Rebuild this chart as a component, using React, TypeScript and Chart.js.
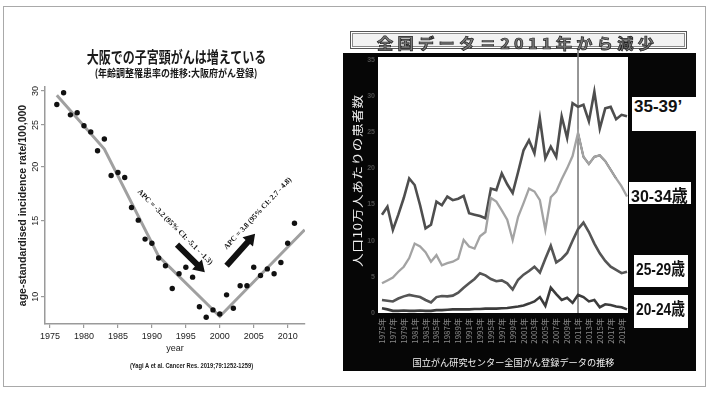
import React, { useEffect, useRef } from 'react';
import { Chart, registerables } from 'chart.js';

Chart.register(...registerables);

// ---------------- Left panel: Osaka Cancer Registry ----------------
const OSAKA_YEARS = [1976, 1977, 1978, 1979, 1980, 1981, 1982, 1983, 1984, 1985, 1986, 1987, 1988, 1989, 1990, 1991, 1992, 1993, 1994, 1995, 1996, 1997, 1998, 1999, 2000, 2001, 2002, 2003, 2004, 2005, 2006, 2007, 2008, 2009, 2010, 2011];
const OSAKA_RATES = [27.9, 29.7, 26.4, 26.7, 24.9, 24.1, 21.8, 23.2, 19.1, 19.4, 18.9, 16.1, 15.05, 13.6, 13.3, 12.3, 11.8, 10.45, 11.3, 11.7, 11.1, 9.48, 8.96, 9.32, 9.12, 10.1, 9.4, 10.6, 10.6, 11.7, 11.2, 11.6, 11.3, 12.0, 13.3, 14.8];
const FIT_YEARS = [1976, 1983, 1991, 2000, 2012.5];
const FIT_RATES = [29.3, 22.0, 12.4, 9.0, 14.3];
const OSAKA_X_TICKS = [1975, 1980, 1985, 1990, 1995, 2000, 2005, 2010];
const OSAKA_Y_TICKS = [10, 15, 20, 25, 30];
const OSAKA_X_RANGE = [1974.26, 2012.55];
const OSAKA_Y_RANGE = [8.645, 30.63];

const LEFT_TITLE = '大阪での子宮頸がんは増えている';
const LEFT_SUBTITLE = '(年齢調整罹患率の推移:大阪府がん登録)';
const LEFT_CITATION = '(Yagi A et al. Cancer Res. 2019;79:1252-1259)';
const LEFT_X_TITLE = 'year';
const LEFT_Y_TITLE = 'age-standardised incidence rate/100,000';

const APC_NOTES = [
  { text: 'APC = -3.2 (95% CI: -5.1 - -1.3)', year: 1993.4, rate: 14.5, angle: 45 },
  { text: 'APC = 3.8 (95% CI: 2.7 - 4.8)', year: 2005.6, rate: 15.6, angle: -47 },
];
const APC_ARROWS = [
  { from: [1993.7, 13.2], to: [1997.8, 11.4] },
  { from: [2001.0, 11.8], to: [2005.2, 14.0] },
];

// ---------------- Right panel: national data ----------------
const NATIONAL_YEARS = [1975, 1976, 1977, 1978, 1979, 1980, 1981, 1982, 1983, 1984, 1985, 1986, 1987, 1988, 1989, 1990, 1991, 1992, 1993, 1994, 1995, 1996, 1997, 1998, 1999, 2000, 2001, 2002, 2003, 2004, 2005, 2006, 2007, 2008, 2009, 2010, 2011, 2012, 2013, 2014, 2015, 2016, 2017, 2018, 2019, 2020];
const RATE_35_39 = [13.6, 14.7, 11.5, 13.6, 15.9, 18.6, 17.7, 14.9, 11.7, 12.2, 15.4, 14.9, 16.1, 15.6, 15.8, 16.2, 13.8, 13.6, 13.4, 13.1, 17.2, 17.0, 19.3, 17.8, 16.6, 19.5, 22.5, 23.9, 22.1, 26.9, 21.4, 23.0, 21.6, 27.2, 24.2, 29.0, 28.5, 28.8, 26.5, 30.6, 25.5, 28.3, 28.5, 26.8, 27.4, 27.2];
const RATE_30_34 = [4.1, 4.5, 4.9, 5.7, 6.4, 7.6, 9.6, 9.2, 8.4, 7.1, 8.0, 6.6, 6.9, 7.1, 7.5, 10.1, 9.2, 8.9, 10.6, 11.2, 15.9, 15.4, 14.2, 12.9, 10.1, 13.3, 15.2, 17.2, 16.8, 15.6, 11.5, 16.0, 16.8, 18.5, 20.0, 21.7, 24.9, 21.6, 20.6, 21.6, 21.8, 21.0, 19.8, 18.6, 17.5, 16.1];
const RATE_25_29 = [1.8, 1.7, 1.6, 2.0, 2.3, 2.5, 2.35, 2.2, 1.8, 1.45, 2.2, 2.35, 2.3, 2.4, 2.8, 3.5, 4.1, 4.7, 5.5, 5.2, 4.7, 4.4, 4.5, 4.1, 3.25, 4.6, 5.3, 5.8, 6.4, 5.6, 7.5, 9.3, 7.0, 7.5, 8.3, 10.0, 11.6, 12.5, 11.2, 9.6, 8.25, 7.2, 6.4, 5.95, 5.5, 5.7];
const RATE_20_24 = [0.65, 0.5, 0.3, 0.3, 0.35, 0.3, 0.3, 0.35, 0.3, 0.3, 0.4, 0.4, 0.45, 0.5, 0.5, 0.5, 0.5, 0.55, 0.55, 0.6, 0.6, 0.6, 0.65, 0.7, 0.8, 0.9, 1.05, 1.3, 1.6, 2.2, 1.0, 3.5, 2.6, 1.8, 2.1, 1.4, 2.5, 2.2, 1.6, 1.8, 0.8, 1.2, 1.1, 0.9, 0.8, 0.5];
const NATIONAL_X_TICKS = [1975, 1977, 1979, 1981, 1983, 1985, 1987, 1989, 1991, 1993, 1995, 1997, 1999, 2001, 2003, 2005, 2007, 2009, 2011, 2013, 2015, 2017, 2019];
const NATIONAL_Y_TICKS = [0, 5, 10, 15, 20, 25, 30, 35];
const NATIONAL_X_RANGE = [1974.27, 2020.18];
const NATIONAL_Y_RANGE = [0, 35.4];
const MARK_YEAR = 2011;
const HIGHLIGHT_RANGE = [2011, 2018];

const RIGHT_TITLE = '全国データ＝2011年から減少';
const RIGHT_Y_TITLE = '人口10万人あたりの患者数';
const RIGHT_X_TITLE = '国立がん研究センター全国がん登録データの推移';
const SERIES_LABELS = ['35-39’', '30-34歳', '25-29歳', '20-24歳'];

// ---------------- fonts ----------------
const SANS = '"Liberation Sans", Arial, sans-serif';
const SERIF = '"Liberation Serif", "Times New Roman", serif';
const CJK = '"Noto Sans CJK JP", "Noto Sans", sans-serif';
const LABEL_FONT = '"Liberation Sans", "Noto Sans CJK JP", sans-serif';

function drawArrow(ctx: CanvasRenderingContext2D, x1: number, y1: number, x2: number, y2: number) {
  const shaft = 6;
  const headLen = 11;
  const headW = 14;
  const ang = Math.atan2(y2 - y1, x2 - x1);
  const len = Math.hypot(x2 - x1, y2 - y1);
  ctx.save();
  ctx.translate(x1, y1);
  ctx.rotate(ang);
  ctx.beginPath();
  ctx.moveTo(0, -shaft / 2);
  ctx.lineTo(len - headLen, -shaft / 2);
  ctx.lineTo(len - headLen, -headW / 2);
  ctx.lineTo(len, 0);
  ctx.lineTo(len - headLen, headW / 2);
  ctx.lineTo(len - headLen, shaft / 2);
  ctx.lineTo(0, shaft / 2);
  ctx.closePath();
  ctx.fill();
  ctx.restore();
}

const leftDecor = {
  id: 'leftDecor',
  afterDatasetsDraw(chart: any) {
    const { ctx } = chart;
    const xs = chart.scales.x;
    const ys = chart.scales.y;
    ctx.save();
    ctx.fillStyle = '#222';
    ctx.font = `9px ${SANS}`;
    ctx.textAlign = 'center';
    ctx.textBaseline = 'middle';
    OSAKA_Y_TICKS.forEach((v) => {
      ctx.save();
      ctx.translate(ys.right - 9.5, ys.getPixelForValue(v));
      ctx.rotate(-Math.PI / 2);
      ctx.fillText(String(v), 0, 0);
      ctx.restore();
    });
    ctx.fillStyle = '#111';
    APC_ARROWS.forEach((a) => {
      drawArrow(
        ctx,
        xs.getPixelForValue(a.from[0]),
        ys.getPixelForValue(a.from[1]),
        xs.getPixelForValue(a.to[0]),
        ys.getPixelForValue(a.to[1])
      );
    });
    ctx.font = `bold 7.6px ${SERIF}`;
    APC_NOTES.forEach((n) => {
      ctx.save();
      ctx.translate(xs.getPixelForValue(n.year), ys.getPixelForValue(n.rate));
      ctx.rotate((n.angle * Math.PI) / 180);
      ctx.fillText(n.text, 0, 0);
      ctx.restore();
    });
    ctx.restore();
  },
};

const rightDecor = {
  id: 'rightDecor',
  beforeDraw(chart: any) {
    const { ctx, chartArea: ca } = chart;
    ctx.save();
    ctx.fillStyle = '#060606';
    ctx.fillRect(8, 53, 353, 318);
    ctx.fillStyle = '#ffffff';
    ctx.fillRect(ca.left, ca.top, ca.right - ca.left, ca.bottom - ca.top);
    ctx.restore();
  },
  beforeDatasetsDraw(chart: any) {
    const { ctx, chartArea: ca } = chart;
    const x = chart.scales.x.getPixelForValue(MARK_YEAR);
    ctx.save();
    ctx.strokeStyle = '#7c7c7c';
    ctx.lineWidth = 1.6;
    ctx.beginPath();
    ctx.moveTo(x, ca.top - 9);
    ctx.lineTo(x, ca.bottom);
    ctx.stroke();
    ctx.restore();
  },
  afterDraw(chart: any) {
    const { ctx } = chart;
    // vertical y-axis title, laid out glyph by glyph between y=267 and y=95
    ctx.save();
    ctx.fillStyle = '#f2f2f2';
    ctx.textAlign = 'center';
    ctx.textBaseline = 'middle';
    ctx.font = `11.5px ${CJK}`;
    const stretch = 1.18;
    const chars = Array.from(RIGHT_Y_TITLE);
    const widths = chars.map((c) => ctx.measureText(c).width * stretch);
    const total = widths.reduce((a, b) => a + b, 0);
    const bottom = 267;
    const top = 95;
    const gap = Math.max(0, (bottom - top - total) / (chars.length - 1));
    let pos = bottom;
    chars.forEach((c, i) => {
      const cy = pos - widths[i] / 2;
      ctx.save();
      ctx.translate(22.5, cy);
      ctx.rotate(-Math.PI / 2);
      ctx.scale(stretch, 1);
      ctx.fillText(c, 0, 0);
      ctx.restore();
      pos -= widths[i] + gap;
    });
    ctx.restore();
    ctx.save();
    ctx.fillStyle = '#f2f2f2';
    ctx.font = `9.2px ${CJK}`;
    ctx.textAlign = 'center';
    ctx.textBaseline = 'middle';
    ctx.fillText(RIGHT_X_TITLE, 178.5, 363);
    ctx.restore();
  },
};

function LeftChart() {
  const ref = useRef<HTMLCanvasElement>(null);
  useEffect(() => {
    const canvas = ref.current as HTMLCanvasElement;
    const axisGrid = {
      display: true,
      drawOnChartArea: false,
      drawTicks: true,
      tickLength: 4,
      color: '#9a9a9a',
      lineWidth: 1.2,
    };
    const axisBorder = { display: true, color: '#9a9a9a', width: 1.5 };
    const chart = new Chart(canvas, {
      type: 'scatter',
      data: {
        datasets: [
          {
            label: 'obs',
            data: OSAKA_YEARS.map((x, i) => ({ x, y: OSAKA_RATES[i] })),
            showLine: false,
            pointRadius: 2.7,
            pointBackgroundColor: '#111',
            pointBorderWidth: 0,
            order: 1,
          },
          {
            label: 'fit',
            data: FIT_YEARS.map((x, i) => ({ x, y: FIT_RATES[i] })),
            showLine: true,
            borderColor: '#a0a0a0',
            borderWidth: 3,
            pointRadius: 0,
            order: 2,
          },
        ],
      },
      options: {
        responsive: false,
        animation: false,
        devicePixelRatio: 1,
        layout: { padding: { left: 8, right: 30, top: 87, bottom: 41 } },
        plugins: {
          legend: { display: false },
          tooltip: { enabled: false },
          title: { display: false },
        },
        scales: {
          x: {
            type: 'linear',
            min: OSAKA_X_RANGE[0],
            max: OSAKA_X_RANGE[1],
            afterBuildTicks: (s: any) => {
              s.ticks = OSAKA_X_TICKS.map((v) => ({ value: v }));
            },
            afterFit: (s: any) => {
              s.height = 31;
            },
            ticks: {
              callback: (v: any) => String(v),
              font: { family: SANS, size: 9 },
              color: '#222',
              padding: 3,
              maxRotation: 0,
              autoSkip: false,
            },
            grid: axisGrid,
            border: axisBorder,
            title: {
              display: true,
              text: LEFT_X_TITLE,
              font: { family: SANS, size: 9 },
              color: '#222',
              padding: { top: 0, bottom: 1.3 },
            },
          },
          y: {
            type: 'logarithmic',
            min: OSAKA_Y_RANGE[0],
            max: OSAKA_Y_RANGE[1],
            afterBuildTicks: (s: any) => {
              s.ticks = OSAKA_Y_TICKS.map((v) => ({ value: v }));
            },
            afterFit: (s: any) => {
              s.width = 37;
            },
            ticks: { display: false },
            grid: axisGrid,
            border: axisBorder,
            title: {
              display: true,
              text: LEFT_Y_TITLE,
              font: { family: SANS, size: 10.5, weight: 'bold' },
              color: '#222',
              padding: { top: 8.7, bottom: 0 },
            },
          },
        },
      } as any,
      plugins: [leftDecor],
    });
    return () => chart.destroy();
  }, []);
  return <canvas ref={ref} width={335} height={396} style={{ position: 'absolute', left: 0, top: 0 }} />;
}

function RightChart() {
  const ref = useRef<HTMLCanvasElement>(null);
  useEffect(() => {
    const canvas = ref.current as HTMLCanvasElement;
    const series = (vals: number[], color: string, width: number) => ({
      data: NATIONAL_YEARS.map((x, i) => ({ x, y: vals[i] })),
      showLine: true,
      borderColor: color,
      borderWidth: width,
      pointRadius: 0,
      tension: 0,
    });
    const highlight = {
      data: NATIONAL_YEARS.map((x, i) => ({ x, y: RATE_30_34[i] })).filter(
        (p) => p.x >= HIGHLIGHT_RANGE[0] && p.x <= HIGHLIGHT_RANGE[1]
      ),
      showLine: true,
      borderColor: '#111',
      borderWidth: 1.8,
      pointRadius: 0,
    };
    const chart = new Chart(canvas, {
      type: 'scatter',
      data: {
        datasets: [
          series(RATE_20_24, '#3c3c3c', 2.6),
          series(RATE_25_29, '#555555', 2.6),
          series(RATE_30_34, '#a3a3a3', 2.3),
          series(RATE_35_39, '#4e4e4e', 2.6),
          highlight,
        ],
      },
      options: {
        responsive: false,
        animation: false,
        devicePixelRatio: 1,
        layout: { padding: { left: 8, right: 83, top: 57, bottom: 26 } },
        plugins: {
          legend: { display: false },
          tooltip: { enabled: false },
          title: { display: false },
        },
        scales: {
          x: {
            type: 'linear',
            min: NATIONAL_X_RANGE[0],
            max: NATIONAL_X_RANGE[1],
            afterBuildTicks: (s: any) => {
              s.ticks = NATIONAL_X_TICKS.map((v) => ({ value: v }));
            },
            afterFit: (s: any) => {
              s.height = 57;
            },
            ticks: {
              callback: (v: any) => `${v}年`,
              font: { family: CJK, size: 8 },
              color: '#8a8a8a',
              minRotation: 90,
              maxRotation: 90,
              autoSkip: false,
              padding: 5,
            },
            grid: { display: false, drawTicks: false },
            border: { display: false },
          },
          y: {
            type: 'linear',
            min: NATIONAL_Y_RANGE[0],
            max: NATIONAL_Y_RANGE[1],
            afterBuildTicks: (s: any) => {
              s.ticks = NATIONAL_Y_TICKS.map((v) => ({ value: v }));
            },
            afterFit: (s: any) => {
              s.width = 35;
            },
            ticks: {
              font: { family: SANS, size: 7, weight: 'bold' },
              color: '#4d4d4d',
              padding: 3,
            },
            grid: { display: false, drawTicks: false },
            border: { display: false },
          },
        },
      } as any,
      plugins: [rightDecor],
    });
    return () => chart.destroy();
  }, []);
  return <canvas ref={ref} width={376} height={396} style={{ position: 'absolute', left: 335, top: 0 }} />;
}

const abs = (o: React.CSSProperties): React.CSSProperties => ({ position: 'absolute', whiteSpace: 'nowrap', ...o });

function SeriesLabel(props: { text: string; left: number; top: number; width: number; height: number; scale: number }) {
  const { text, left, top, width, height, scale } = props;
  return (
    <div style={abs({ left, top, width, height, background: '#fff' })}>
      <div
        style={abs({
          left: 2,
          top: 0,
          height,
          lineHeight: `${height}px`,
          font: `bold 17px ${LABEL_FONT}`,
          color: '#111',
          transform: `scaleX(${scale})`,
          transformOrigin: 'left center',
        })}
      >
        {text}
      </div>
    </div>
  );
}

export default function App() {
  return (
    <div style={abs({ left: 0, top: 0, width: 711, height: 396, background: '#fff', overflow: 'hidden' })}>
      <div style={abs({ left: 3, top: 6, width: 701, height: 379, border: '1px solid #a9a9a9' })} />
      <LeftChart />
      <RightChart />
      <div
        style={abs({
          left: 0,
          width: 353,
          top: 47,
          height: 17,
          lineHeight: '17px',
          textAlign: 'center',
          font: `bold 12px ${CJK}`,
          color: '#1a1a1a',
          transform: 'scaleY(1.3)',
        })}
      >
        {LEFT_TITLE}
      </div>
      <div
        style={abs({
          left: 0,
          width: 352,
          top: 66,
          height: 13,
          lineHeight: '13px',
          textAlign: 'center',
          font: `bold 9px ${CJK}`,
          color: '#1a1a1a',
          transform: 'scaleY(1.15)',
        })}
      >
        {LEFT_SUBTITLE}
      </div>
      <div
        style={abs({
          left: 0,
          width: 383,
          top: 361,
          height: 12,
          lineHeight: '12px',
          textAlign: 'center',
          font: `bold 7.5px ${SANS}`,
          color: '#1a1a1a',
          transform: 'scaleX(0.77)',
        })}
      >
        {LEFT_CITATION}
      </div>
      <div
        style={abs({
          left: 350,
          top: 31,
          width: 337,
          height: 18,
          boxSizing: 'border-box',
          border: '1px solid #555',
          boxShadow: 'inset 0 0 0 1px #fff, inset 0 0 0 2px #8a8a8a',
          background: '#f2f2f2',
        })}
      >
        <div
          style={abs({
            left: 0,
            top: 0,
            width: 335,
            height: 16,
            lineHeight: '16px',
            textAlign: 'center',
            font: `bold 15px ${CJK}`,
            letterSpacing: '4px',
            textIndent: '4px',
            color: '#7a7a7a',
            WebkitTextStroke: '0.7px #222',
            transform: 'translateX(-3px) scaleX(1.08)',
          })}
        >
          {RIGHT_TITLE}
        </div>
      </div>
      <SeriesLabel text={SERIES_LABELS[0]} left={632} top={97} width={64} height={34} scale={1.0} />
      <SeriesLabel text={SERIES_LABELS[1]} left={629} top={182} width={62} height={22} scale={0.94} />
      <SeriesLabel text={SERIES_LABELS[2]} left={634} top={255} width={54} height={32} scale={0.81} />
      <SeriesLabel text={SERIES_LABELS[3]} left={634} top={295} width={54} height={33} scale={0.81} />
    </div>
  );
}
